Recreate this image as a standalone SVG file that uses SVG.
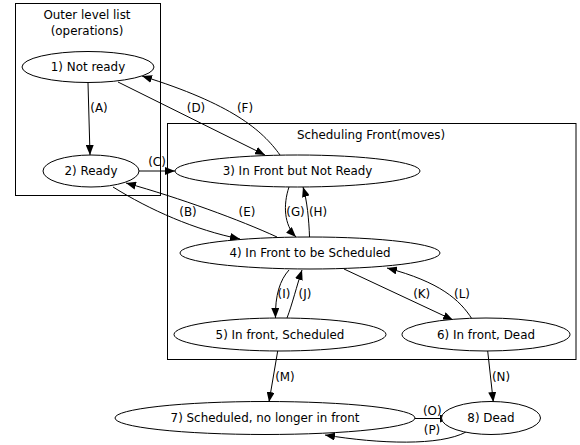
<svg xmlns="http://www.w3.org/2000/svg" width="580" height="445" viewBox="0 0 580 445">
  <style>
    text { font-family: "DejaVu Sans", "Liberation Sans", sans-serif; font-size: 11.9px; fill: #000; text-anchor: middle; }
    .cluster { fill: none; stroke: #000; stroke-width: 1; }
    .node ellipse { fill: #fff; stroke: #000; stroke-width: 1; }
    .edge { fill: none; stroke: #000; stroke-width: 1; marker-end: url(#arrow); }
  </style>
  <defs>
    <marker id="arrow" markerUnits="userSpaceOnUse" markerWidth="10" markerHeight="8" viewBox="0 0 10 8" refX="10" refY="4" orient="auto">
      <path d="M0,0 L10,4 L0,8 Z" fill="#000"/>
    </marker>
  </defs>
  <rect width="580" height="445" fill="#fff"/>

  <!-- clusters -->
  <g id="cluster-outer">
    <rect class="cluster" x="15.5" y="3.5" width="145" height="192"/>
    <text x="87" y="19.2">Outer level list</text>
    <text x="87" y="35.2">(operations)</text>
  </g>
  <g id="cluster-front">
    <rect class="cluster" x="167.5" y="123.5" width="408.5" height="236"/>
    <text x="371" y="138.5">Scheduling Front(moves)</text>
  </g>

  <!-- connectors -->
  <g id="edges">
    <path class="edge" d="M88,83 L90,155"/>
    <path class="edge" d="M118,82 L265,155"/>
    <path class="edge" d="M280,155 C262,130 232,104 142,76"/>
    <path class="edge" d="M139,171 L175,171"/>
    <path class="edge" d="M113,187 C150,210 195,230 240,239"/>
    <path class="edge" d="M277,237 C240,220 180,198 126,183"/>
    <path class="edge" d="M289,187 C283,205 284,225 296,237"/>
    <path class="edge" d="M309.5,237 C309,220 307,200 303,187"/>
    <path class="edge" d="M289,270 C280,280 275,295 275.5,318"/>
    <path class="edge" d="M287,318 C292,305 297,285 302,270"/>
    <path class="edge" d="M344,269 L453,320"/>
    <path class="edge" d="M472,319 C460,300 440,282 387,268"/>
    <path class="edge" d="M277.7,351 L269,402"/>
    <path class="edge" d="M487.7,351 L493.3,402"/>
    <path class="edge" d="M415,418.5 L450,418.5"/>
    <path class="edge" d="M466,432 C440,446 380,444 325,435"/>
    <g id="edge-labels">
      <text x="99" y="112.2">(A)</text>
      <text x="196" y="112.2">(D)</text>
      <text x="245" y="112.2">(F)</text>
      <text x="157" y="166.2">(C)</text>
      <text x="188" y="216">(B)</text>
      <text x="247" y="216">(E)</text>
      <text x="295.5" y="216">(G)</text>
      <text x="318" y="216">(H)</text>
      <text x="284" y="298">(I)</text>
      <text x="305" y="298">(J)</text>
      <text x="421.7" y="297.5">(K)</text>
      <text x="462" y="297.5">(L)</text>
      <text x="285" y="381.2">(M)</text>
      <text x="501" y="381.2">(N)</text>
      <text x="432.3" y="414.8">(O)</text>
      <text x="432" y="433.5">(P)</text>
    </g>
  </g>

  <!-- nodes -->
  <g id="n1" class="node"><ellipse cx="88" cy="67" rx="66" ry="15.5"/><text x="88" y="71.2">1) Not ready</text></g>
  <g id="n2" class="node"><ellipse cx="91" cy="171" rx="48" ry="16"/><text x="91" y="175.2">2) Ready</text></g>
  <g id="n3" class="node"><ellipse cx="297.5" cy="171" rx="122.5" ry="16"/><text x="297.5" y="175.2">3) In Front but Not Ready</text></g>
  <g id="n4" class="node"><ellipse cx="310" cy="253" rx="130" ry="16"/><text x="310" y="257.2">4) In Front to be Scheduled</text></g>
  <g id="n5" class="node"><ellipse cx="280" cy="334.5" rx="106" ry="16.5"/><text x="280" y="338.7">5) In front, Scheduled</text></g>
  <g id="n6" class="node"><ellipse cx="486" cy="334.5" rx="84" ry="16.5"/><text x="486" y="338.7">6) In front, Dead</text></g>
  <g id="n7" class="node"><ellipse cx="265" cy="418" rx="150" ry="16.5"/><text x="265" y="422.2">7) Scheduled, no longer in front</text></g>
  <g id="n8" class="node"><ellipse cx="491" cy="418" rx="49.5" ry="16.5"/><text x="491" y="422.2">8) Dead</text></g>
</svg>
